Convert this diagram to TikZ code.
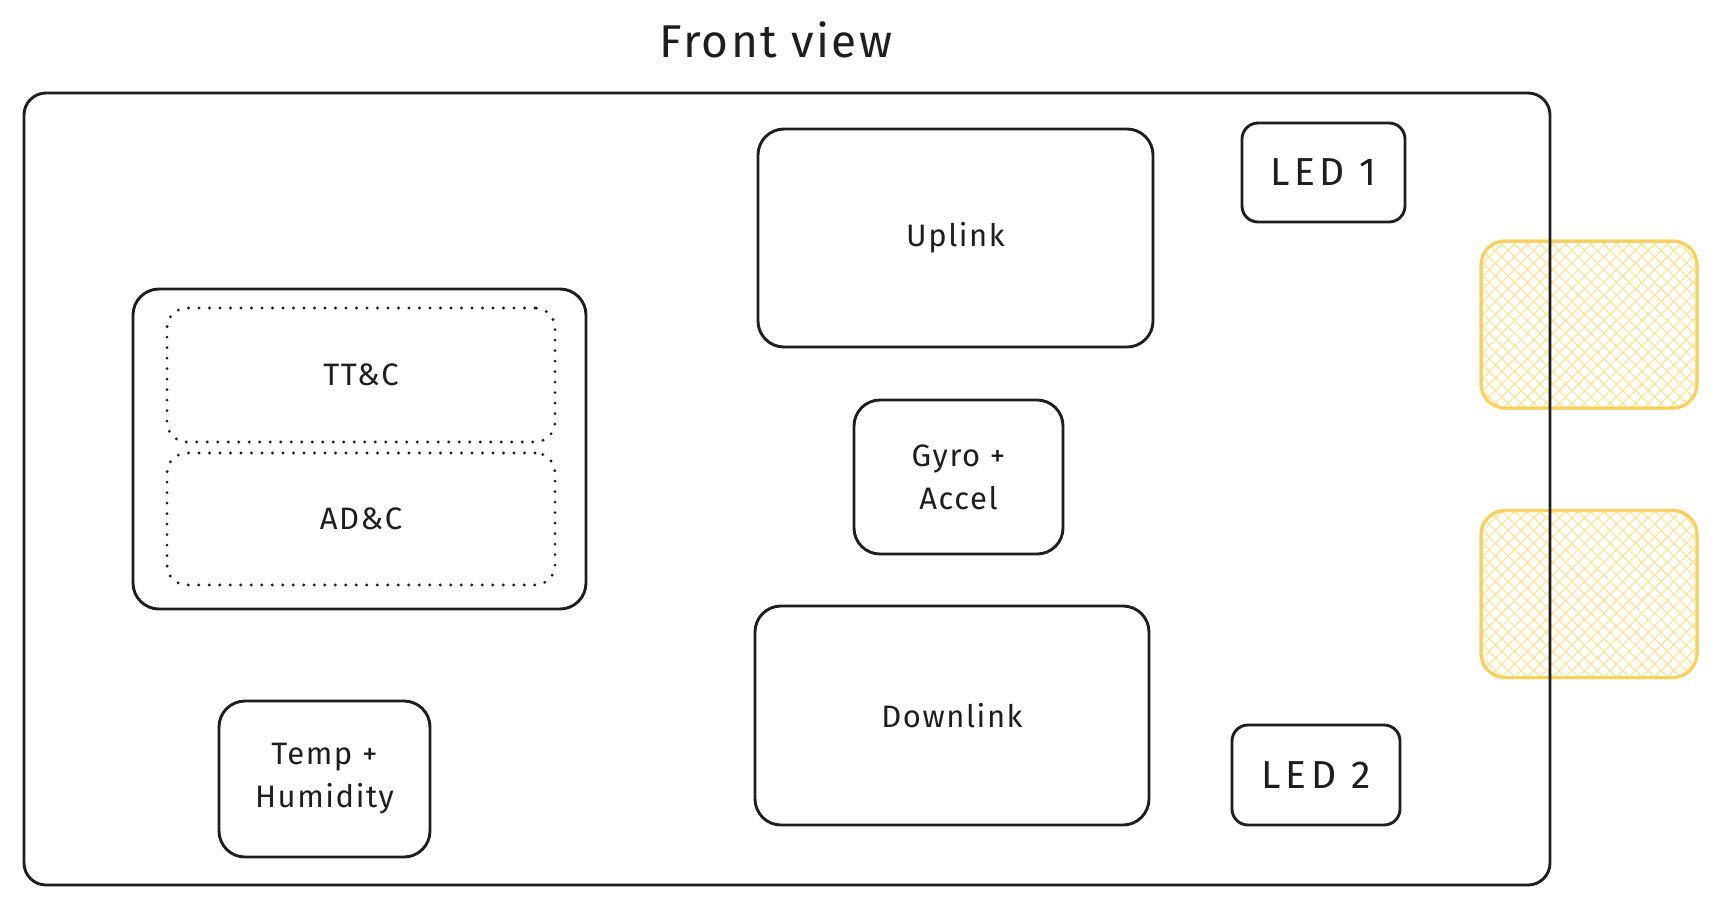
\documentclass[tikz,border=0pt]{standalone}
\usepackage{fontspec}
\setmainfont{Fira Sans}
\newfontfamily\bodyfont[LetterSpace=5]{Fira Sans}
\newfontfamily\ledfont[LetterSpace=12]{Fira Sans}
\newfontfamily\titlefont[LetterSpace=5]{Fira Sans}
\usetikzlibrary{patterns.meta}
\definecolor{ink}{HTML}{1E1E1E}
\definecolor{ystroke}{HTML}{F5D260}
\definecolor{yhatch}{HTML}{F9E59A}
\tikzset{
  box/.style={draw=ink, line width=2.9pt, rounded corners=#1, inner sep=0pt, align=center, text=ink,
    font=\bodyfont\fontsize{31}{43}\selectfont},
  box/.default=22pt,
  dotbox/.style={draw=ink, line width=3.2pt, line cap=round, dash pattern=on 0pt off 10.5pt,
    rounded corners=20pt, inner sep=0pt, align=center, text=ink, font=\bodyfont\fontsize{31}{43}\selectfont},
  ledbox/.style={box=16pt, font=\ledfont\fontsize{39}{45}\selectfont},
  ybox/.style={draw=ystroke, line width=3pt, rounded corners=24pt, inner sep=0pt,
    minimum width=216pt, minimum height=167pt},
  hatchA/.style={pattern={Lines[angle=45,distance=9pt,line width=1.2pt]}, pattern color=yhatch},
  hatchB/.style={pattern={Lines[angle=-45,distance=9pt,line width=1.2pt]}, pattern color=yhatch},
}
\begin{document}
\begin{tikzpicture}[x=1pt,y=-1pt]
\useasboundingbox (0,0) rectangle (1718,906);
% title
\node[text=ink, font=\titlefont\fontsize{46}{52}\selectfont] (title) at (776,40) {Front view};
% yellow connectors (behind main box)
\foreach \n/\yy in {y1/324.5, y2/594} {
  \node[ybox, hatchA] (\n) at (1589,\yy) {};
  \node[ybox, hatchB, draw=none] at (1589,\yy) {};
  \node[ybox, fill=none] at (1589,\yy) {};
}
% main board
\node[box=22pt, minimum width=1526pt, minimum height=792pt] (main) at (787,489) {};
% group with TT&C and AD&C
\node[box=26pt, minimum width=453pt, minimum height=320pt] (group) at (359.5,449) {};
\node[dotbox, minimum width=388pt, minimum height=134pt] (ttc) at (361,375) {TT\&C};
\node[dotbox, minimum width=388pt, minimum height=132pt] (adc) at (361,519) {AD\&C};
% radios
\node[box=26pt, minimum width=395pt, minimum height=218pt] (uplink) at (955.5,238) {Uplink};
\node[box=26pt, minimum width=209pt, minimum height=154pt] (gyro) at (958.5,477) {Gyro +\\Accel};
\node[box=26pt, minimum width=394pt, minimum height=219pt] (downlink) at (952,715.5) {Downlink};
% LEDs
\node[ledbox, minimum width=163pt, minimum height=99pt] (led1) at (1323.5,172.5) {LED 1};
\node[ledbox, minimum width=168pt, minimum height=100pt] (led2) at (1316,775) {LED 2};
% sensor
\node[box=26pt, minimum width=211pt, minimum height=156pt] (temp) at (324.5,779) {Temp +\\Humidity};
\end{tikzpicture}
\end{document}
